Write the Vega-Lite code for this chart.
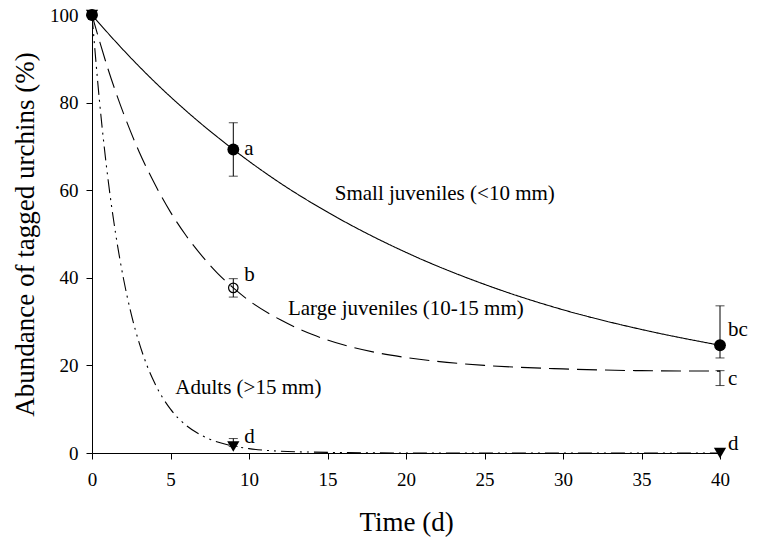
{
  "$schema": "https://vega.github.io/schema/vega-lite/v6.json",
  "width": 628,
  "height": 438,
  "autosize": "none",
  "padding": {"left": 92, "top": 15, "right": 40, "bottom": 87},
  "background": "white",
  "config": {
    "view": {"stroke": null},
    "font": "Liberation Serif",
    "axis": {
      "grid": false,
      "domainColor": "black",
      "tickColor": "black",
      "tickSize": 6,
      "labelFlush": false,
      "labelFont": "Liberation Serif",
      "labelFontSize": 19,
      "labelColor": "black",
      "titleFont": "Liberation Serif",
      "titleFontSize": 27,
      "titleFontWeight": "normal",
      "titleColor": "black"
    }
  },
  "datasets": {
    "curves": [
      {"series": "Small", "time": 0, "pct": 100},
      {"series": "Small", "time": 2, "pct": 92.0},
      {"series": "Small", "time": 4, "pct": 84.7},
      {"series": "Small", "time": 6, "pct": 78.1},
      {"series": "Small", "time": 9, "pct": 69.3},
      {"series": "Small", "time": 12, "pct": 61.6},
      {"series": "Small", "time": 15, "pct": 55.0},
      {"series": "Small", "time": 20, "pct": 45.8},
      {"series": "Small", "time": 25, "pct": 38.5},
      {"series": "Small", "time": 30, "pct": 32.7},
      {"series": "Small", "time": 35, "pct": 28.2},
      {"series": "Small", "time": 40, "pct": 24.6},
      {"series": "Large", "time": 0, "pct": 100},
      {"series": "Large", "time": 1, "pct": 87.9},
      {"series": "Large", "time": 2, "pct": 77.6},
      {"series": "Large", "time": 3, "pct": 68.8},
      {"series": "Large", "time": 4, "pct": 61.4},
      {"series": "Large", "time": 5, "pct": 55.0},
      {"series": "Large", "time": 6, "pct": 49.6},
      {"series": "Large", "time": 7, "pct": 45.0},
      {"series": "Large", "time": 8, "pct": 41.0},
      {"series": "Large", "time": 9, "pct": 37.7},
      {"series": "Large", "time": 10, "pct": 34.8},
      {"series": "Large", "time": 12, "pct": 30.4},
      {"series": "Large", "time": 14, "pct": 27.1},
      {"series": "Large", "time": 16, "pct": 24.7},
      {"series": "Large", "time": 18, "pct": 23.0},
      {"series": "Large", "time": 20, "pct": 21.8},
      {"series": "Large", "time": 25, "pct": 20.0},
      {"series": "Large", "time": 30, "pct": 19.2},
      {"series": "Large", "time": 35, "pct": 18.8},
      {"series": "Large", "time": 40, "pct": 18.7},
      {"series": "Adults", "time": 0, "pct": 100},
      {"series": "Adults", "time": 0.5, "pct": 79.5},
      {"series": "Adults", "time": 1, "pct": 63.1},
      {"series": "Adults", "time": 1.5, "pct": 50.2},
      {"series": "Adults", "time": 2, "pct": 39.9},
      {"series": "Adults", "time": 2.5, "pct": 31.7},
      {"series": "Adults", "time": 3, "pct": 25.2},
      {"series": "Adults", "time": 3.5, "pct": 20.0},
      {"series": "Adults", "time": 4, "pct": 15.9},
      {"series": "Adults", "time": 5, "pct": 10.0},
      {"series": "Adults", "time": 6, "pct": 6.3},
      {"series": "Adults", "time": 7, "pct": 4.0},
      {"series": "Adults", "time": 8, "pct": 2.5},
      {"series": "Adults", "time": 9, "pct": 1.6},
      {"series": "Adults", "time": 10, "pct": 1.0},
      {"series": "Adults", "time": 12, "pct": 0.4},
      {"series": "Adults", "time": 14, "pct": 0.2},
      {"series": "Adults", "time": 16, "pct": 0.1},
      {"series": "Adults", "time": 20, "pct": 0},
      {"series": "Adults", "time": 30, "pct": 0},
      {"series": "Adults", "time": 40, "pct": 0}
    ],
    "obs": [
      {"series": "Small", "time": 0, "pct": 100},
      {"series": "Small", "time": 9, "pct": 69.3},
      {"series": "Small", "time": 40, "pct": 24.6},
      {"series": "Large", "time": 0, "pct": 100},
      {"series": "Large", "time": 9, "pct": 37.7},
      {"series": "Adults", "time": 0, "pct": 100},
      {"series": "Adults", "time": 9, "pct": 1.5},
      {"series": "Adults", "time": 40, "pct": 0}
    ],
    "bars": [
      {"series": "Small", "time": 9, "lo": 63.2, "hi": 75.4},
      {"series": "Small", "time": 40, "lo": 21.7, "hi": 33.6},
      {"series": "Large", "time": 9, "lo": 35.6, "hi": 39.8},
      {"series": "Large", "time": 40, "lo": 15.4, "hi": 18.8},
      {"series": "Adults", "time": 9, "lo": 1.5, "hi": 3.3}
    ],
    "letters": [
      {"time": 9, "pct": 68.1, "sig": "a"},
      {"time": 9, "pct": 39.2, "sig": "b"},
      {"time": 40, "pct": 26.6, "sig": "bc"},
      {"time": 40, "pct": 15.6, "sig": "c"},
      {"time": 9, "pct": 2.3, "sig": "d"},
      {"time": 40, "pct": 0.75, "sig": "d"}
    ],
    "labels": [
      {"time": 15.46, "pct": 57.7, "text": "Small juveniles (<10 mm)"},
      {"time": 12.48, "pct": 31.6, "text": "Large juveniles (10-15 mm)"},
      {"time": 5.31, "pct": 13.5, "text": "Adults (>15 mm)"}
    ]
  },
  "encoding": {
    "x": {
      "field": "time", "type": "quantitative",
      "scale": {"domain": [0, 40], "nice": false, "zero": false},
      "axis": {"title": "Time (d)", "values": [0, 5, 10, 15, 20, 25, 30, 35, 40], "labelPadding": 11, "titlePadding": 20}
    },
    "y": {
      "field": "pct", "type": "quantitative",
      "scale": {"domain": [0, 100], "nice": false},
      "axis": {"title": "Abundance of tagged urchins (%)", "values": [0, 20, 40, 60, 80, 100], "labelPadding": 8, "titlePadding": 10}
    }
  },
  "layer": [
    {
      "data": {"name": "curves"},
      "mark": {"type": "line", "interpolate": "monotone", "color": "black", "strokeWidth": 1.1},
      "encoding": {
        "detail": {"field": "series"},
        "strokeDash": {
          "field": "series", "type": "nominal",
          "scale": {"domain": ["Small", "Large", "Adults"], "range": [[1, 0], [20, 8], [14, 5, 2, 5, 2, 5]]},
          "legend": null
        }
      }
    },
    {
      "data": {"name": "bars"},
      "mark": {"type": "rule", "color": "black", "strokeWidth": 1},
      "encoding": {"y": {"field": "lo", "type": "quantitative"}, "y2": {"field": "hi"}}
    },
    {
      "data": {"name": "bars"},
      "mark": {"type": "tick", "orient": "horizontal", "color": "black", "size": 9, "thickness": 1},
      "encoding": {"y": {"field": "hi", "type": "quantitative"}}
    },
    {
      "data": {"name": "bars"},
      "mark": {"type": "tick", "orient": "horizontal", "color": "black", "size": 9, "thickness": 1},
      "encoding": {"y": {"field": "lo", "type": "quantitative"}}
    },
    {
      "data": {"name": "obs"},
      "transform": [{"filter": "datum.series === 'Small'"}],
      "mark": {"type": "point", "shape": "circle", "filled": true, "color": "black", "size": 140, "opacity": 1}
    },
    {
      "data": {"name": "obs"},
      "transform": [{"filter": "datum.series === 'Large'"}],
      "mark": {"type": "point", "shape": "circle", "filled": false, "color": "black", "size": 90, "strokeWidth": 1.2, "opacity": 1}
    },
    {
      "data": {"name": "obs"},
      "transform": [{"filter": "datum.series === 'Adults'"}],
      "mark": {"type": "point", "shape": "triangle-down", "filled": true, "color": "black", "size": 150, "opacity": 1}
    },
    {
      "data": {"name": "letters"},
      "transform": [{"filter": "datum.time < 20"}],
      "mark": {"type": "text", "align": "left", "baseline": "alphabetic", "dx": 11, "font": "Liberation Serif", "fontSize": 21, "color": "black"},
      "encoding": {"text": {"field": "sig"}}
    },
    {
      "data": {"name": "letters"},
      "transform": [{"filter": "datum.time > 20"}],
      "mark": {"type": "text", "align": "left", "baseline": "alphabetic", "dx": 8, "font": "Liberation Serif", "fontSize": 21, "color": "black"},
      "encoding": {"text": {"field": "sig"}}
    },
    {
      "data": {"name": "labels"},
      "mark": {"type": "text", "align": "left", "baseline": "alphabetic", "font": "Liberation Serif", "fontSize": 21, "color": "black"},
      "encoding": {"text": {"field": "text"}}
    }
  ]
}
